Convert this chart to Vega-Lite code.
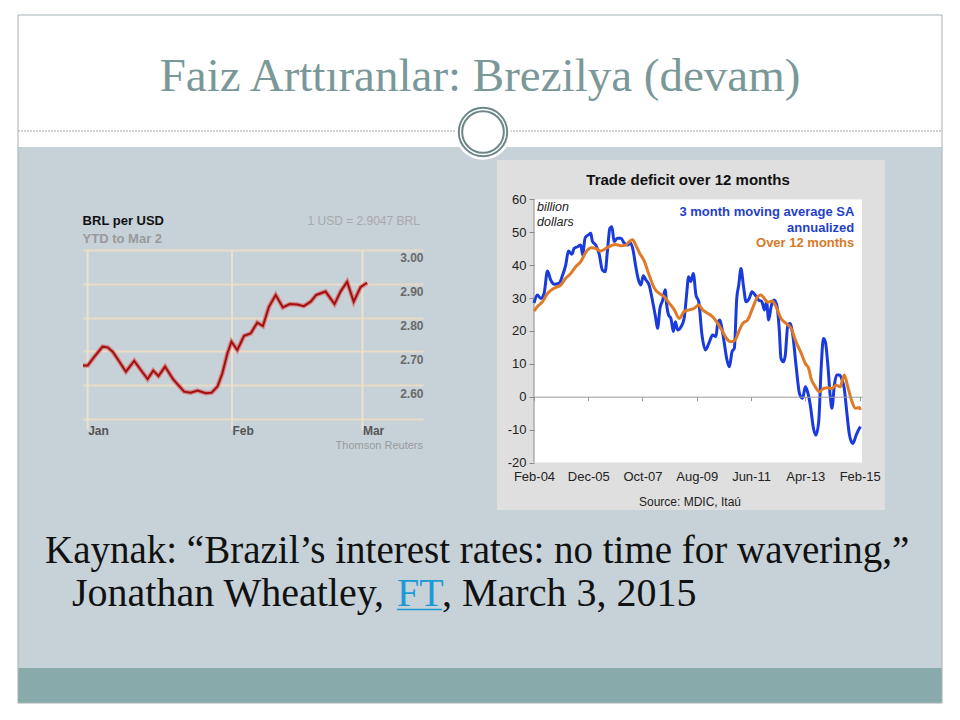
{
  "$schema": "https://vega.github.io/schema/vega-lite/v6.json",
  "padding": 0,
  "background": "#c6d1d8",
  "bounds": "flush",
  "spacing": 0,
  "config": {
    "view": {"stroke": null},
    "axis": {"labelFont": "Liberation Sans", "titleFont": "Liberation Sans"},
    "text": {"font": "Liberation Sans"}
  },
  "datasets": {
    "brl": [
      {"date": "2014-12-31T00:00:00Z", "rate": 2.658},
      {"date": "2015-01-01T00:00:00Z", "rate": 2.658},
      {"date": "2015-01-02T10:00:00Z", "rate": 2.684},
      {"date": "2015-01-04T05:00:00Z", "rate": 2.714},
      {"date": "2015-01-05T07:00:00Z", "rate": 2.712},
      {"date": "2015-01-06T09:00:00Z", "rate": 2.699},
      {"date": "2015-01-07T19:00:00Z", "rate": 2.670},
      {"date": "2015-01-09T05:00:00Z", "rate": 2.640},
      {"date": "2015-01-11T00:00:00Z", "rate": 2.672},
      {"date": "2015-01-12T10:00:00Z", "rate": 2.645},
      {"date": "2015-01-13T21:00:00Z", "rate": 2.618},
      {"date": "2015-01-15T02:00:00Z", "rate": 2.643},
      {"date": "2015-01-16T05:00:00Z", "rate": 2.627},
      {"date": "2015-01-17T15:00:00Z", "rate": 2.655},
      {"date": "2015-01-19T09:00:00Z", "rate": 2.617},
      {"date": "2015-01-21T17:00:00Z", "rate": 2.581},
      {"date": "2015-01-23T03:00:00Z", "rate": 2.578},
      {"date": "2015-01-24T14:00:00Z", "rate": 2.584},
      {"date": "2015-01-26T09:00:00Z", "rate": 2.576},
      {"date": "2015-01-27T15:00:00Z", "rate": 2.578},
      {"date": "2015-01-28T21:00:00Z", "rate": 2.596},
      {"date": "2015-01-29T22:00:00Z", "rate": 2.635},
      {"date": "2015-01-31T00:00:00Z", "rate": 2.694},
      {"date": "2015-01-31T21:00:00Z", "rate": 2.729},
      {"date": "2015-02-02T03:00:00Z", "rate": 2.704},
      {"date": "2015-02-03T14:00:00Z", "rate": 2.746},
      {"date": "2015-02-05T00:00:00Z", "rate": 2.753},
      {"date": "2015-02-06T10:00:00Z", "rate": 2.785},
      {"date": "2015-02-07T15:00:00Z", "rate": 2.775},
      {"date": "2015-02-08T22:00:00Z", "rate": 2.832},
      {"date": "2015-02-10T09:00:00Z", "rate": 2.867},
      {"date": "2015-02-11T22:00:00Z", "rate": 2.830},
      {"date": "2015-02-13T09:00:00Z", "rate": 2.840},
      {"date": "2015-02-15T00:00:00Z", "rate": 2.839},
      {"date": "2015-02-16T10:00:00Z", "rate": 2.834},
      {"date": "2015-02-17T21:00:00Z", "rate": 2.847},
      {"date": "2015-02-19T02:00:00Z", "rate": 2.867},
      {"date": "2015-02-21T02:00:00Z", "rate": 2.877},
      {"date": "2015-02-23T00:00:00Z", "rate": 2.840},
      {"date": "2015-02-24T07:00:00Z", "rate": 2.877},
      {"date": "2015-02-25T17:00:00Z", "rate": 2.906},
      {"date": "2015-02-27T03:00:00Z", "rate": 2.847},
      {"date": "2015-02-28T14:00:00Z", "rate": 2.890},
      {"date": "2015-03-02T00:00:00Z", "rate": 2.903}
    ],
    "sa3m": [
      {"date": "2004-02-01", "value": 28.5},
      {"date": "2004-03-13", "value": 30.9},
      {"date": "2004-04-25", "value": 29.9},
      {"date": "2004-06-04", "value": 31.4},
      {"date": "2004-07-16", "value": 38.2},
      {"date": "2004-08-25", "value": 35.5},
      {"date": "2004-10-07", "value": 34.2},
      {"date": "2004-12-07", "value": 34.5},
      {"date": "2005-01-19", "value": 37},
      {"date": "2005-02-26", "value": 40},
      {"date": "2005-04-01", "value": 44.3},
      {"date": "2005-05-13", "value": 43.3},
      {"date": "2005-06-10", "value": 45.1},
      {"date": "2005-07-22", "value": 45.6},
      {"date": "2005-09-01", "value": 46.1},
      {"date": "2005-09-22", "value": 43.1},
      {"date": "2005-10-25", "value": 48.4},
      {"date": "2005-12-04", "value": 49.2},
      {"date": "2006-01-01", "value": 49.7},
      {"date": "2006-01-22", "value": 47.2},
      {"date": "2006-03-04", "value": 46.1},
      {"date": "2006-04-13", "value": 43.6},
      {"date": "2006-05-25", "value": 38.5},
      {"date": "2006-06-28", "value": 38},
      {"date": "2006-07-25", "value": 44.1},
      {"date": "2006-08-25", "value": 51.2},
      {"date": "2006-09-19", "value": 51.7},
      {"date": "2006-10-16", "value": 47.2},
      {"date": "2006-11-28", "value": 48.2},
      {"date": "2007-01-07", "value": 48.2},
      {"date": "2007-02-18", "value": 46.7},
      {"date": "2007-03-28", "value": 46.1},
      {"date": "2007-05-10", "value": 46.7},
      {"date": "2007-06-07", "value": 44.6},
      {"date": "2007-07-10", "value": 39.6},
      {"date": "2007-08-13", "value": 35.5},
      {"date": "2007-09-13", "value": 34},
      {"date": "2007-10-10", "value": 36.8},
      {"date": "2007-11-13", "value": 35.5},
      {"date": "2007-12-22", "value": 34},
      {"date": "2008-02-04", "value": 28.9},
      {"date": "2008-03-13", "value": 23.8},
      {"date": "2008-04-04", "value": 20.8},
      {"date": "2008-05-04", "value": 26.9},
      {"date": "2008-06-07", "value": 29.4},
      {"date": "2008-07-07", "value": 32.5},
      {"date": "2008-07-26", "value": 27.9},
      {"date": "2008-08-19", "value": 24.8},
      {"date": "2008-09-16", "value": 23.8},
      {"date": "2008-10-16", "value": 19.8},
      {"date": "2008-11-10", "value": 22.8},
      {"date": "2008-12-07", "value": 20.3},
      {"date": "2009-01-19", "value": 21.3},
      {"date": "2009-02-26", "value": 23.8},
      {"date": "2009-03-28", "value": 30.9},
      {"date": "2009-04-22", "value": 36.5},
      {"date": "2009-05-19", "value": 35},
      {"date": "2009-06-19", "value": 37.5},
      {"date": "2009-07-22", "value": 30.9},
      {"date": "2009-08-25", "value": 28.9},
      {"date": "2009-10-04", "value": 18.8},
      {"date": "2009-11-16", "value": 14.2},
      {"date": "2010-01-04", "value": 16.7},
      {"date": "2010-02-12", "value": 18.8},
      {"date": "2010-03-25", "value": 18.3},
      {"date": "2010-04-16", "value": 22.3},
      {"date": "2010-05-13", "value": 23.3},
      {"date": "2010-06-07", "value": 20.8},
      {"date": "2010-07-07", "value": 16.2},
      {"date": "2010-08-04", "value": 11.7},
      {"date": "2010-09-07", "value": 9.1},
      {"date": "2010-10-10", "value": 13.7},
      {"date": "2010-11-07", "value": 14.7},
      {"date": "2010-12-07", "value": 29.9},
      {"date": "2011-01-01", "value": 34},
      {"date": "2011-01-28", "value": 39},
      {"date": "2011-02-26", "value": 34},
      {"date": "2011-04-01", "value": 28.9},
      {"date": "2011-05-10", "value": 29.9},
      {"date": "2011-06-13", "value": 31.9},
      {"date": "2011-07-22", "value": 30.9},
      {"date": "2011-09-04", "value": 29.4},
      {"date": "2011-10-13", "value": 28.9},
      {"date": "2011-11-13", "value": 26.4},
      {"date": "2011-12-10", "value": 28.9},
      {"date": "2012-01-04", "value": 23.3},
      {"date": "2012-02-04", "value": 27.4},
      {"date": "2012-03-13", "value": 29.4},
      {"date": "2012-04-13", "value": 27.9},
      {"date": "2012-05-16", "value": 19.8},
      {"date": "2012-06-04", "value": 11.7},
      {"date": "2012-07-04", "value": 10.6},
      {"date": "2012-07-28", "value": 12.7},
      {"date": "2012-08-28", "value": 21.8},
      {"date": "2012-09-25", "value": 22.3},
      {"date": "2012-10-28", "value": 18.8},
      {"date": "2012-12-07", "value": 9.6},
      {"date": "2013-01-19", "value": 1},
      {"date": "2013-02-26", "value": -0.5},
      {"date": "2013-04-01", "value": 3},
      {"date": "2013-04-28", "value": 1.5},
      {"date": "2013-06-01", "value": -2.5},
      {"date": "2013-07-10", "value": -9.6},
      {"date": "2013-08-10", "value": -11.7},
      {"date": "2013-09-13", "value": -7.6},
      {"date": "2013-10-13", "value": 8.6},
      {"date": "2013-11-10", "value": 17.7},
      {"date": "2013-12-04", "value": 16.7},
      {"date": "2014-01-04", "value": 9.6},
      {"date": "2014-02-01", "value": 0.5},
      {"date": "2014-02-23", "value": -3.5},
      {"date": "2014-03-25", "value": 3.5},
      {"date": "2014-04-22", "value": 6.6},
      {"date": "2014-05-25", "value": 6.6},
      {"date": "2014-06-28", "value": 5.1},
      {"date": "2014-07-25", "value": 2.5},
      {"date": "2014-08-25", "value": -4.6},
      {"date": "2014-09-28", "value": -11.7},
      {"date": "2014-11-07", "value": -14.2},
      {"date": "2014-12-19", "value": -11.7},
      {"date": "2015-01-28", "value": -9.6},
      {"date": "2015-02-10", "value": -9.1}
    ],
    "over12m": [
      {"date": "2004-02-01", "value": 26},
      {"date": "2004-03-13", "value": 27.4},
      {"date": "2004-05-16", "value": 28.9},
      {"date": "2004-07-16", "value": 31.4},
      {"date": "2004-10-07", "value": 33},
      {"date": "2004-12-28", "value": 34},
      {"date": "2005-02-26", "value": 36},
      {"date": "2005-05-01", "value": 37.5},
      {"date": "2005-07-01", "value": 39.6},
      {"date": "2005-09-01", "value": 41.1},
      {"date": "2005-10-13", "value": 43.1},
      {"date": "2005-11-22", "value": 44.6},
      {"date": "2006-01-04", "value": 45.3},
      {"date": "2006-03-04", "value": 45.1},
      {"date": "2006-05-04", "value": 44.3},
      {"date": "2006-07-07", "value": 45.1},
      {"date": "2006-09-07", "value": 45.9},
      {"date": "2006-11-07", "value": 46.3},
      {"date": "2007-01-07", "value": 45.9},
      {"date": "2007-03-10", "value": 46.1},
      {"date": "2007-04-22", "value": 47.2},
      {"date": "2007-06-01", "value": 47.7},
      {"date": "2007-07-10", "value": 46.1},
      {"date": "2007-08-28", "value": 43.6},
      {"date": "2007-10-22", "value": 41.3},
      {"date": "2007-12-22", "value": 37},
      {"date": "2008-02-25", "value": 33},
      {"date": "2008-04-25", "value": 31.4},
      {"date": "2008-06-25", "value": 30.4},
      {"date": "2008-08-28", "value": 28.4},
      {"date": "2008-10-28", "value": 26.4},
      {"date": "2008-12-28", "value": 23.8},
      {"date": "2009-02-26", "value": 25.9},
      {"date": "2009-05-01", "value": 26.4},
      {"date": "2009-07-01", "value": 26.9},
      {"date": "2009-08-25", "value": 27.9},
      {"date": "2009-10-13", "value": 26.4},
      {"date": "2009-12-13", "value": 25.4},
      {"date": "2010-02-12", "value": 24.3},
      {"date": "2010-04-16", "value": 22.3},
      {"date": "2010-06-16", "value": 19.8},
      {"date": "2010-08-04", "value": 17.7},
      {"date": "2010-09-28", "value": 16.7},
      {"date": "2010-11-16", "value": 17.2},
      {"date": "2011-01-01", "value": 19.8},
      {"date": "2011-02-19", "value": 22.3},
      {"date": "2011-04-19", "value": 23.3},
      {"date": "2011-06-28", "value": 27.4},
      {"date": "2011-08-22", "value": 30.4},
      {"date": "2011-10-01", "value": 30.9},
      {"date": "2011-11-13", "value": 29.9},
      {"date": "2011-12-22", "value": 28.7},
      {"date": "2012-02-16", "value": 29.1},
      {"date": "2012-04-04", "value": 27.4},
      {"date": "2012-06-04", "value": 23.8},
      {"date": "2012-08-07", "value": 22.3},
      {"date": "2012-10-07", "value": 20.8},
      {"date": "2012-12-07", "value": 16.7},
      {"date": "2013-02-10", "value": 13.2},
      {"date": "2013-04-01", "value": 10.1},
      {"date": "2013-05-13", "value": 8.6},
      {"date": "2013-06-10", "value": 5.6},
      {"date": "2013-07-22", "value": 3.5},
      {"date": "2013-09-22", "value": 1.5},
      {"date": "2013-11-10", "value": 2.5},
      {"date": "2014-01-04", "value": 2.7},
      {"date": "2014-02-23", "value": 2.5},
      {"date": "2014-04-16", "value": 3.5},
      {"date": "2014-06-04", "value": 3},
      {"date": "2014-07-25", "value": 6.6},
      {"date": "2014-09-07", "value": 3},
      {"date": "2014-10-16", "value": -0.5},
      {"date": "2014-12-10", "value": -3.5},
      {"date": "2015-01-28", "value": -3.3},
      {"date": "2015-02-10", "value": -4}
    ]
  },
  "hconcat": [
    {
      "width": 83,
      "height": 720,
      "layer": [
        {
          "data": {"values": [{}]},
          "mark": {"type": "rect", "fill": "#ffffff"},
          "encoding": {
            "x": {"datum": 0, "type": "quantitative", "scale": {"domain": [0, 83], "nice": false, "zero": false}, "axis": null},
            "x2": {"datum": 960},
            "y": {"datum": 0, "type": "quantitative", "scale": {"domain": [0, 720], "reverse": true, "nice": false, "zero": false}, "axis": null},
            "y2": {"datum": 147}
          }
        },
        {
          "data": {"values": [{}]},
          "mark": {"type": "rect", "fill": "#ffffff"},
          "encoding": {
            "x": {"datum": 0, "type": "quantitative", "axis": null},
            "x2": {"datum": 18},
            "y": {"datum": 0, "type": "quantitative", "axis": null},
            "y2": {"datum": 720}
          }
        },
        {
          "data": {"values": [{}]},
          "mark": {"type": "rect", "fill": "#ffffff"},
          "encoding": {
            "x": {"datum": 942, "type": "quantitative", "axis": null},
            "x2": {"datum": 960},
            "y": {"datum": 0, "type": "quantitative", "axis": null},
            "y2": {"datum": 720}
          }
        },
        {
          "data": {"values": [{}]},
          "mark": {"type": "rect", "fill": "#ffffff"},
          "encoding": {
            "x": {"datum": 0, "type": "quantitative", "axis": null},
            "x2": {"datum": 960},
            "y": {"datum": 703, "type": "quantitative", "axis": null},
            "y2": {"datum": 720}
          }
        },
        {
          "data": {"values": [{}]},
          "mark": {"type": "rect", "fill": "#89aaaa"},
          "encoding": {
            "x": {"datum": 18, "type": "quantitative", "axis": null},
            "x2": {"datum": 942},
            "y": {"datum": 668, "type": "quantitative", "axis": null},
            "y2": {"datum": 703}
          }
        },
        {
          "data": {"values": [{}]},
          "mark": {"type": "rect", "filled": false, "fill": null, "stroke": "#a5b2b5", "strokeWidth": 1},
          "encoding": {
            "x": {"datum": 18, "type": "quantitative", "axis": null},
            "x2": {"datum": 942},
            "y": {"datum": 15, "type": "quantitative", "axis": null},
            "y2": {"datum": 703}
          }
        },
        {
          "data": {"values": [{}]},
          "mark": {"type": "rule", "stroke": "#a3a3a3", "strokeWidth": 1, "strokeDash": [2, 1]},
          "encoding": {
            "x": {"datum": 18, "type": "quantitative", "axis": null},
            "x2": {"datum": 942},
            "y": {"datum": 131, "type": "quantitative", "axis": null}
          }
        },
        {
          "data": {"values": [{}]},
          "mark": {"type": "point", "shape": "circle", "filled": true, "fill": "#ffffff", "size": 3100, "opacity": 1, "strokeWidth": 0},
          "encoding": {
            "x": {"datum": 483, "type": "quantitative", "axis": null},
            "y": {"datum": 132, "type": "quantitative", "axis": null}
          }
        },
        {
          "data": {"values": [{}]},
          "mark": {"type": "point", "shape": "circle", "filled": false, "stroke": "#6d8687", "strokeWidth": 2, "size": 2341, "opacity": 1},
          "encoding": {
            "x": {"datum": 483, "type": "quantitative", "axis": null},
            "y": {"datum": 132, "type": "quantitative", "axis": null}
          }
        },
        {
          "data": {"values": [{}]},
          "mark": {"type": "point", "shape": "circle", "filled": false, "stroke": "#6d8687", "strokeWidth": 2, "size": 1735, "opacity": 1},
          "encoding": {
            "x": {"datum": 483, "type": "quantitative", "axis": null},
            "y": {"datum": 132, "type": "quantitative", "axis": null}
          }
        },
        {
          "data": {"values": [{}]},
          "mark": {"type": "text", "text": "Faiz Arttıranlar: Brezilya (devam)", "font": "Liberation Serif", "fontSize": 47, "fill": "#7b9899", "align": "center", "baseline": "alphabetic"},
          "encoding": {
            "x": {"datum": 480, "type": "quantitative", "axis": null},
            "y": {"datum": 91, "type": "quantitative", "axis": null}
          }
        },
        {
          "data": {"values": [{}]},
          "mark": {"type": "text", "text": "Kaynak: “Brazil’s interest rates: no time for wavering,”", "font": "Liberation Serif", "fontSize": 39, "fill": "#111111", "align": "left", "baseline": "alphabetic"},
          "encoding": {
            "x": {"datum": 45, "type": "quantitative", "axis": null},
            "y": {"datum": 563, "type": "quantitative", "axis": null}
          }
        },
        {
          "data": {"values": [{}]},
          "mark": {"type": "text", "text": "Jonathan Wheatley,", "font": "Liberation Serif", "fontSize": 40, "fill": "#111111", "align": "left", "baseline": "alphabetic"},
          "encoding": {
            "x": {"datum": 72, "type": "quantitative", "axis": null},
            "y": {"datum": 606, "type": "quantitative", "axis": null}
          }
        },
        {
          "data": {"values": [{}]},
          "mark": {"type": "text", "text": "FT", "font": "Liberation Serif", "fontSize": 40, "fill": "#1e9bd7", "align": "left", "baseline": "alphabetic"},
          "encoding": {
            "x": {"datum": 397, "type": "quantitative", "axis": null},
            "y": {"datum": 606, "type": "quantitative", "axis": null}
          }
        },
        {
          "data": {"values": [{}]},
          "mark": {"type": "text", "text": ", March 3, 2015", "font": "Liberation Serif", "fontSize": 40, "fill": "#111111", "align": "left", "baseline": "alphabetic"},
          "encoding": {
            "x": {"datum": 442, "type": "quantitative", "axis": null},
            "y": {"datum": 606, "type": "quantitative", "axis": null}
          }
        },
        {
          "data": {"values": [{}]},
          "mark": {"type": "rule", "stroke": "#1e9bd7", "strokeWidth": 1.5},
          "encoding": {
            "x": {"datum": 397, "type": "quantitative", "axis": null},
            "x2": {"datum": 442},
            "y": {"datum": 609.5, "type": "quantitative", "axis": null}
          }
        }
      ]
    },
    {
      "width": 340,
      "height": 419,
      "layer": [
        {
          "data": {"values": [{"date": "2015-01-01T00:00:00Z"}, {"date": "2015-02-01T00:00:00Z"}, {"date": "2015-03-01T00:00:00Z"}]},
          "mark": {"type": "rule", "stroke": "#ebe1cf", "strokeWidth": 2},
          "encoding": {
            "x": {"field": "date", "type": "temporal", "title": null},
            "y": {"datum": 3.0, "type": "quantitative", "title": null},
            "y2": {"datum": 2.4675}
          }
        },
        {
          "data": {"name": "brl"},
          "mark": {"type": "line", "stroke": "#d86a68", "strokeWidth": 4.5, "opacity": 0.75},
          "encoding": {
            "x": {
              "field": "date", "type": "temporal", "title": null,
              "scale": {"type": "utc", "domain": [{"year": 2014, "month": 12, "date": 31, "utc": true}, {"year": 2015, "month": 3, "date": 14, "utc": true}], "nice": false},
              "axis": {
                "orient": "bottom", "title": null, "format": "%b", "grid": false, "domain": false, "ticks": false, "tickSize": 0,
                "values": [{"year": 2015, "month": 1, "date": 1, "utc": true}, {"year": 2015, "month": 2, "date": 1, "utc": true}, {"year": 2015, "month": 3, "date": 1, "utc": true}],
                "labelAlign": "left", "labelBaseline": "top", "labelPadding": 6, "labelFlush": false,
                "labelFontSize": 12, "labelFontWeight": "bold", "labelColor": "#555555"
              }
            },
            "y": {
              "field": "rate", "type": "quantitative", "title": null,
              "scale": {"domain": [2.5, 3.7396], "nice": false, "zero": false},
              "axis": {
                "orient": "right", "title": null, "values": [2.5, 2.6, 2.7, 2.8, 2.9, 3.0],
                "grid": true, "gridColor": "#e9dcc6", "gridWidth": 2, "gridOpacity": 1,
                "domain": false, "ticks": false, "tickSize": 0,
                "labelAlign": "right", "labelBaseline": "top", "labelPadding": 0, "labelOffset": 3,
                "labelExpr": "datum.value < 2.55 ? '' : format(datum.value, '.2f')",
                "labelFontSize": 12, "labelFontWeight": "bold", "labelColor": "#6a6a6a"
              }
            }
          }
        },
        {
          "data": {"name": "brl"},
          "mark": {"type": "line", "stroke": "#a01010", "strokeWidth": 2},
          "encoding": {
            "x": {"field": "date", "type": "temporal", "title": null},
            "y": {"field": "rate", "type": "quantitative", "title": null}
          }
        },
        {
          "data": {"values": [{}]},
          "mark": {"type": "text", "text": "BRL per USD", "fontSize": 13, "fontWeight": "bold", "fill": "#111111", "align": "left", "baseline": "middle"},
          "encoding": {
            "x": {"datum": {"year": 2014, "month": 12, "date": 30, "hours": 22, "utc": true}, "type": "temporal", "title": null},
            "y": {"datum": 3.0867, "type": "quantitative", "title": null}
          }
        },
        {
          "data": {"values": [{}]},
          "mark": {"type": "text", "text": "YTD to Mar 2", "fontSize": 13, "fontWeight": "bold", "fill": "#9a9a9a", "align": "left", "baseline": "middle"},
          "encoding": {
            "x": {"datum": {"year": 2014, "month": 12, "date": 30, "hours": 22, "utc": true}, "type": "temporal", "title": null},
            "y": {"datum": 3.0317, "type": "quantitative", "title": null}
          }
        },
        {
          "data": {"values": [{}]},
          "mark": {"type": "text", "text": "1 USD = 2.9047 BRL", "fontSize": 12, "fill": "#a9a9a9", "align": "right", "baseline": "middle"},
          "encoding": {
            "x": {"datum": {"year": 2015, "month": 3, "date": 13, "hours": 8, "utc": true}, "type": "temporal", "title": null},
            "y": {"datum": 3.0867, "type": "quantitative", "title": null}
          }
        },
        {
          "data": {"values": [{}]},
          "mark": {"type": "text", "text": "Thomson Reuters", "fontSize": 11, "fill": "#9a9a9a", "align": "right", "baseline": "middle"},
          "encoding": {
            "x": {"datum": {"year": 2015, "month": 3, "date": 14, "utc": true}, "type": "temporal", "title": null},
            "y": {"datum": 2.421, "type": "quantitative", "title": null}
          }
        }
      ]
    },
    {
      "width": 111,
      "height": 10,
      "data": {"values": []},
      "mark": "point",
      "encoding": {}
    },
    {
      "width": 328,
      "height": 462.5,
      "layer": [
        {
          "data": {"values": [{}]},
          "mark": {"type": "rect", "fill": "#dfdfdf"},
          "encoding": {
            "x": {"datum": {"year": 2002, "month": 11, "date": 2, "utc": true}, "type": "temporal", "title": null},
            "x2": {"datum": {"year": 2015, "month": 12, "date": 10, "utc": true}},
            "y": {"datum": 71.98, "type": "quantitative", "title": null},
            "y2": {"datum": -34.44}
          }
        },
        {
          "data": {"values": [{}]},
          "mark": {"type": "rect", "fill": "#ffffff"},
          "encoding": {
            "x": {"datum": {"year": 2004, "month": 2, "date": 1, "utc": true}, "type": "temporal", "title": null},
            "x2": {"datum": {"year": 2015, "month": 3, "date": 1, "utc": true}},
            "y": {"datum": 60, "type": "quantitative", "title": null},
            "y2": {"datum": -20}
          }
        },
        {
          "data": {"values": [{}]},
          "mark": {"type": "rule", "stroke": "#8a8a8a", "strokeWidth": 1},
          "encoding": {
            "x": {"datum": {"year": 2004, "month": 2, "date": 1, "utc": true}, "type": "temporal", "title": null},
            "y": {"datum": 60, "type": "quantitative", "title": null},
            "y2": {"datum": -20}
          }
        },
        {
          "data": {"name": "sa3m"},
          "mark": {"type": "line", "stroke": "#1a3bdc", "strokeWidth": 3, "interpolate": "monotone"},
          "encoding": {
            "x": {
              "field": "date", "type": "temporal", "title": null,
              "scale": {"type": "utc", "domain": [{"year": 2004, "month": 2, "date": 1, "utc": true}, {"year": 2015, "month": 3, "date": 1, "utc": true}], "nice": false},
              "axis": {
                "orient": "bottom", "title": null, "format": "%b-%y", "offset": -65.8, "zindex": 1,
                "values": [
                  {"year": 2004, "month": 2, "date": 1, "utc": true},
                  {"year": 2005, "month": 12, "date": 1, "utc": true},
                  {"year": 2007, "month": 10, "date": 1, "utc": true},
                  {"year": 2009, "month": 8, "date": 1, "utc": true},
                  {"year": 2011, "month": 6, "date": 1, "utc": true},
                  {"year": 2013, "month": 4, "date": 1, "utc": true},
                  {"year": 2015, "month": 2, "date": 1, "utc": true}
                ],
                "grid": false, "domainColor": "#9a9a9a", "tickColor": "#9a9a9a", "tickSize": 4,
                "labelPadding": 70, "labelFlush": false, "labelOverlap": false,
                "labelFontSize": 13, "labelColor": "#222222"
              }
            },
            "y": {
              "field": "value", "type": "quantitative", "title": null,
              "scale": {"domain": [-20, 120.63], "nice": false, "zero": false},
              "axis": {
                "orient": "left", "title": null, "zindex": 1, "domain": false,
                "values": [-20, -10, 0, 10, 20, 30, 40, 50, 60],
                "labelExpr": "'' + datum.value",
                "grid": false, "tickColor": "#8a8a8a", "tickSize": 5,
                "labelPadding": 3, "labelFontSize": 13, "labelColor": "#222222"
              }
            }
          }
        },
        {
          "data": {"name": "over12m"},
          "mark": {"type": "line", "stroke": "#df7a27", "strokeWidth": 3, "interpolate": "monotone"},
          "encoding": {
            "x": {"field": "date", "type": "temporal", "title": null},
            "y": {"field": "value", "type": "quantitative", "title": null}
          }
        },
        {
          "data": {"values": [{}]},
          "mark": {"type": "text", "text": "Trade deficit over 12 months", "fontSize": 15, "fontWeight": "bold", "fill": "#111111", "align": "center", "baseline": "middle"},
          "encoding": {
            "x": {"datum": {"year": 2009, "month": 4, "date": 15, "utc": true}, "type": "temporal", "title": null},
            "y": {"datum": 65.9, "type": "quantitative", "title": null}
          }
        },
        {
          "data": {"values": [{}]},
          "mark": {"type": "text", "text": "Source: MDIC, Itaú", "fontSize": 12, "fill": "#222222", "align": "center", "baseline": "middle"},
          "encoding": {
            "x": {"datum": {"year": 2009, "month": 5, "date": 9, "utc": true}, "type": "temporal", "title": null},
            "y": {"datum": -31.9, "type": "quantitative", "title": null}
          }
        },
        {
          "data": {"values": [{}]},
          "mark": {"type": "text", "text": "billion", "fontSize": 12.5, "fontStyle": "italic", "fill": "#222222", "align": "left", "baseline": "middle"},
          "encoding": {
            "x": {"datum": {"year": 2004, "month": 3, "date": 9, "utc": true}, "type": "temporal", "title": null},
            "y": {"datum": 57.7, "type": "quantitative", "title": null}
          }
        },
        {
          "data": {"values": [{}]},
          "mark": {"type": "text", "text": "dollars", "fontSize": 12.5, "fontStyle": "italic", "fill": "#222222", "align": "left", "baseline": "middle"},
          "encoding": {
            "x": {"datum": {"year": 2004, "month": 3, "date": 9, "utc": true}, "type": "temporal", "title": null},
            "y": {"datum": 53.2, "type": "quantitative", "title": null}
          }
        },
        {
          "data": {"values": [{}]},
          "mark": {"type": "text", "text": "3 month moving average SA", "fontSize": 13, "fontWeight": "bold", "fill": "#1f3fc9", "align": "right", "baseline": "middle"},
          "encoding": {
            "x": {"datum": {"year": 2014, "month": 11, "date": 26, "utc": true}, "type": "temporal", "title": null},
            "y": {"datum": 56.3, "type": "quantitative", "title": null}
          }
        },
        {
          "data": {"values": [{}]},
          "mark": {"type": "text", "text": "annualized", "fontSize": 13, "fontWeight": "bold", "fill": "#1f3fc9", "align": "right", "baseline": "middle"},
          "encoding": {
            "x": {"datum": {"year": 2014, "month": 11, "date": 26, "utc": true}, "type": "temporal", "title": null},
            "y": {"datum": 51.2, "type": "quantitative", "title": null}
          }
        },
        {
          "data": {"values": [{}]},
          "mark": {"type": "text", "text": "Over 12 months", "fontSize": 13, "fontWeight": "bold", "fill": "#d8782a", "align": "right", "baseline": "middle"},
          "encoding": {
            "x": {"datum": {"year": 2014, "month": 11, "date": 26, "utc": true}, "type": "temporal", "title": null},
            "y": {"datum": 46.65, "type": "quantitative", "title": null}
          }
        }
      ]
    }
  ]
}
